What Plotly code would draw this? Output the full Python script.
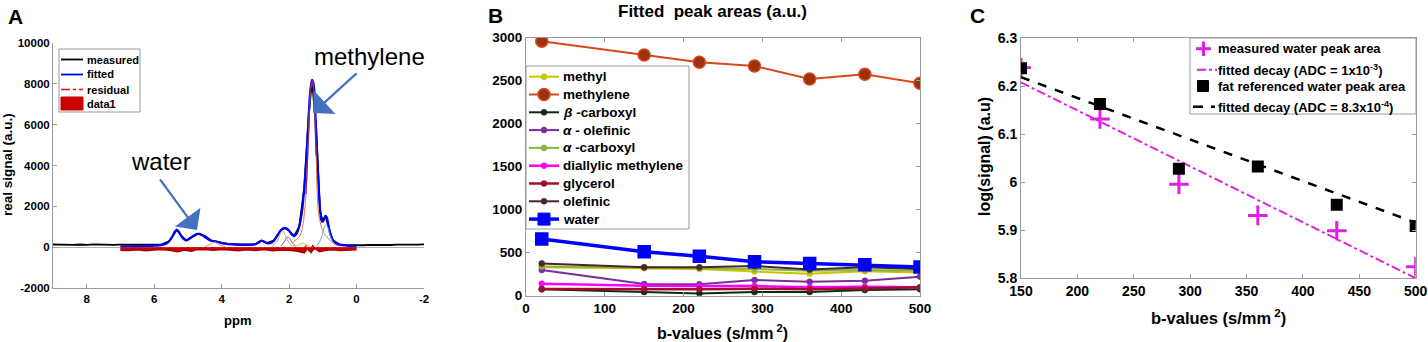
import plotly.graph_objects as go

# ---------------- Panel A data (spectrum) ----------------
ppm_fit = [7.0, 6.8, 6.6, 6.4, 6.2, 6.0, 5.8, 5.65, 5.55, 5.45, 5.38, 5.33, 5.28, 5.2, 5.12, 5.05,
           4.98, 4.9, 4.8, 4.72, 4.65, 4.55, 4.45, 4.35, 4.25, 4.18, 4.1, 4.0, 3.8, 3.6, 3.4, 3.2,
           3.0, 2.9, 2.82, 2.75, 2.65, 2.55, 2.45, 2.35, 2.25, 2.15, 2.08, 2.0, 1.92, 1.85, 1.78,
           1.7, 1.62, 1.55, 1.48, 1.42, 1.37, 1.32, 1.28, 1.24, 1.2, 1.16, 1.12, 1.08, 1.04, 1.0,
           0.96, 0.92, 0.88, 0.84, 0.8, 0.75, 0.7, 0.6, 0.5, 0.3, 0.1, 0.0]
sig_fit = [40, 45, 50, 55, 60, 75, 100, 170, 300, 560, 780, 850, 780, 560, 390, 330,
           380, 480, 600, 650, 650, 560, 440, 340, 300, 290, 250, 200, 150, 120, 110, 110,
           140, 230, 320, 280, 190, 200, 320, 560, 820, 930, 920, 800, 620, 540, 650,
           1000, 1700, 2900, 4600, 6400, 7700, 8200, 8050, 7200, 5800, 4200, 2800, 1800, 1300, 1250,
           1400, 1530, 1450, 1150, 800, 500, 330, 180, 120, 80, 60, 55]

ppm_meas = [9.0, 8.8, 8.6, 8.4, 8.2, 8.0, 7.8, 7.6, 7.4, 7.2, 7.0, 6.6, 6.2, 5.8, 5.55, 5.45,
            5.33, 5.2, 5.05, 4.9, 4.7, 4.5, 4.3, 4.1, 3.8, 3.4, 3.0, 2.82, 2.65, 2.45, 2.25,
            2.12, 2.0, 1.85, 1.7, 1.55, 1.42, 1.32, 1.2, 1.08, 1.0, 0.92, 0.8, 0.7, 0.5, 0.3,
            0.0, -0.2, -0.4, -0.6, -0.8, -1.0, -1.2, -1.4, -1.6, -1.8, -2.0]
sig_meas = [130, 120, 140, 115, 130, 110, 135, 120, 125, 110, 120, 110, 100, 120, 300, 560,
            850, 560, 330, 480, 650, 560, 320, 250, 160, 130, 150, 320, 200, 330, 820,
            940, 800, 550, 1000, 2900, 6400, 8200, 5800, 1800, 1250, 1530, 800, 340, 130, 100,
            80, 95, 110, 100, 115, 105, 120, 110, 115, 125, 135]

ppm_res = [7.0, 6.5, 6.0, 5.5, 5.3, 5.0, 4.7, 4.4, 4.0, 3.5, 3.0, 2.5, 2.2, 2.0, 1.8,
           1.6, 1.5, 1.4, 1.3, 1.2, 1.1, 1.0, 0.8, 0.5, 0.0]
sig_res = [-60, -40, -50, -30, -90, -20, -60, -30, -40, -50, -30, -60, -20, -80, -40,
           -150, 60, -220, 80, -180, 40, -90, -30, -50, -40]

ppm_area = [7.0, 6.75, 6.5, 6.25, 6.0, 5.75, 5.5, 5.3, 5.1, 4.9, 4.75, 4.5, 4.25, 4.0, 3.75,
            3.5, 3.25, 3.0, 2.75, 2.5, 2.25, 2.0, 1.75, 1.55, 1.45, 1.35, 1.25, 1.1, 0.9,
            0.7, 0.5, 0.25, 0.0]
sig_area = [-150, -160, -130, -170, -140, -120, -160, -220, -140, -200, -130, -120, -150, -110,
            -140, -170, -130, -160, -120, -180, -140, -150, -200, -280, -60, -260, -40, -220,
            -150, -130, -160, -140, -130]

# individual fitted components
comp_methylene_ppm = [1.9, 1.7, 1.6, 1.5, 1.42, 1.36, 1.31, 1.26, 1.2, 1.12, 1.0, 0.9, 0.8, 0.7, 0.6, 0.5]
comp_methylene_sig = [250, 500, 1000, 2600, 5600, 7800, 8150, 7300, 4500, 1600, 800, 550, 350, 200, 100, 50]
comp_methyl_ppm = [1.2, 1.1, 1.0, 0.95, 0.9, 0.85, 0.8, 0.7, 0.6]
comp_methyl_sig = [50, 250, 700, 1000, 1100, 950, 650, 250, 80]
comp_acarb_ppm = [2.5, 2.35, 2.25, 2.2, 2.15, 2.05, 1.95, 1.85]
comp_acarb_sig = [50, 300, 700, 800, 700, 350, 120, 40]
comp_aolef_ppm = [2.25, 2.15, 2.08, 2.03, 1.98, 1.9, 1.8]
comp_aolef_sig = [50, 250, 450, 500, 430, 200, 50]
comp_bcarb_ppm = [1.8, 1.7, 1.6, 1.5, 1.4]
comp_bcarb_sig = [30, 120, 180, 120, 30]
comp_glyc_ppm = [4.5, 4.35, 4.25, 4.2, 4.15, 4.05, 3.9]
comp_glyc_sig = [30, 120, 220, 250, 200, 100, 30]

a_xticks = [8, 6, 4, 2, 0, -2]
a_xticklabels = ["8", "6", "4", "2", "0", "-2"]
a_yticks = [-2000, 0, 2000, 4000, 6000, 8000, 10000]
a_yticklabels = ["-2000", "0", "2000", "4000", "6000", "8000", "10000"]

# ---------------- Panel B data ----------------
b_vals = [20, 150, 220, 290, 360, 430, 500]
methyl = [330, 320, 310, 280, 255, 285, 270]
methylene = [2960, 2800, 2715, 2670, 2520, 2575, 2470]
beta_carboxyl = [74, 43, 27, 43, 43, 66, 74]
alpha_olefinic = [298, 136, 132, 182, 163, 174, 221]
alpha_carboxyl = [340, 325, 320, 310, 290, 300, 290]
diallylic = [140, 116, 112, 112, 97, 105, 97]
glycerol = [78, 74, 74, 81, 74, 85, 97]
olefinic = [375, 330, 330, 345, 305, 330, 310]
water = [660, 510, 460, 395, 375, 360, 335]

# ---------------- Panel C data ----------------
b_c = [150, 220, 290, 360, 430, 500]
log_water = [6.239, 6.132, 5.996, 5.931, 5.899, 5.824]
log_fatref = [6.2375, 6.163, 6.028, 6.033, 5.953, 5.909]
fit_b = [150, 500]
fit_water = [6.208, 5.800]
fit_fat = [6.219, 5.916]

FONT = "Liberation Sans, Arial, sans-serif"
GRID = "#9a9a9a"
W, H = 1428, 342


def px(x):
    return x / W


def py(y):
    return 1 - y / H


fig = go.Figure()

# ---- A traces ----
fig.add_trace(go.Scatter(x=ppm_meas, y=sig_meas, mode="lines",
                         line=dict(color="black", width=1.8), xaxis="x", yaxis="y"))
fig.add_trace(go.Scatter(x=ppm_fit, y=sig_fit, mode="lines", line_shape="spline",
                         line=dict(color="#0000ff", width=2.2), xaxis="x", yaxis="y"))
fig.add_trace(go.Scatter(x=ppm_res, y=sig_res, mode="lines",
                         line=dict(color="#ff0000", width=1.3, dash="dashdot"), xaxis="x", yaxis="y"))
fig.add_trace(go.Scatter(x=ppm_area, y=sig_area, mode="lines", fill="tozeroy",
                         fillcolor="#cc0000", line=dict(color="#aa0000", width=1.5),
                         xaxis="x", yaxis="y"))
comps = [(comp_methylene_ppm, comp_methylene_sig, "#e07a3a"),
         (comp_methyl_ppm, comp_methyl_sig, "#5aaee6"),
         (comp_acarb_ppm, comp_acarb_sig, "#9cc83a"),
         (comp_aolef_ppm, comp_aolef_sig, "#8a4cb0"),
         (comp_bcarb_ppm, comp_bcarb_sig, "#e0c800"),
         (comp_glyc_ppm, comp_glyc_sig, "#e89060")]
for cx, cy, cc in comps:
    fig.add_trace(go.Scatter(x=cx, y=cy, mode="lines", line_shape="spline",
                             line=dict(color=cc, width=1), xaxis="x", yaxis="y", hoverinfo="skip"))
fig.add_trace(go.Scatter(x=comp_methylene_ppm[3:9], y=comp_methylene_sig[3:9], mode="lines",
                         line_shape="spline",
                         line=dict(color="#7a2a70", width=1.3), xaxis="x", yaxis="y", hoverinfo="skip"))

# ---- B traces ----
small = 6
series_b = [
    ("methyl", methyl, "#c8c400", "#c8c400", "circle", small, 2),
    ("methylene", methylene, "#d8481a", "#9c3010", "circle", 12, 2),
    ("<i>β</i> -carboxyl", beta_carboxyl, "#0e2a12", "#0e2a12", "circle", small, 2),
    ("<i>α</i> - olefinic", alpha_olefinic, "#7a2c9c", "#7a2c9c", "circle", small, 2),
    ("<i>α</i> -carboxyl", alpha_carboxyl, "#86b43a", "#86b43a", "circle", small, 2),
    ("diallylic methylene", diallylic, "#ff00ff", "#ff00ff", "circle", small, 2.5),
    ("glycerol", glycerol, "#a0102e", "#a0102e", "circle", small, 2.5),
    ("olefinic", olefinic, "#4a2626", "#4a2626", "circle", small, 2),
    ("water", water, "#0000ff", "#0000ff", "square", 12, 3.5),
]
for name, vals, lc, mc, sym, ms, lw in series_b:
    fig.add_trace(go.Scatter(x=b_vals, y=vals, mode="lines+markers", name=name,
                             line=dict(color=lc, width=lw),
                             marker=dict(color=mc, symbol=sym, size=ms,
                                         line=dict(color=lc, width=1.5 if ms > 10 else 0.5)),
                             xaxis="x2", yaxis="y2"))

# ---- C traces ----
fig.add_trace(go.Scatter(x=b_c, y=log_water, mode="markers",
                         marker=dict(symbol="cross-thin", size=14, line=dict(color="#e020e0", width=3)),
                         xaxis="x3", yaxis="y3"))
fig.add_trace(go.Scatter(x=fit_b, y=fit_water, mode="lines",
                         line=dict(color="#e020e0", width=2, dash="dashdot"),
                         xaxis="x3", yaxis="y3"))
fig.add_trace(go.Scatter(x=b_c, y=log_fatref, mode="markers",
                         marker=dict(symbol="square", size=12, color="black"),
                         xaxis="x3", yaxis="y3"))
fig.add_trace(go.Scatter(x=fit_b, y=fit_fat, mode="lines",
                         line=dict(color="black", width=2.5, dash="dash"),
                         xaxis="x3", yaxis="y3"))

tick_common = dict(ticks="inside", ticklen=4, tickcolor=GRID, showgrid=False, zeroline=False,
                   showline=True, linecolor=GRID, linewidth=1, automargin=False)

layout = dict(
    width=W, height=H, margin=dict(l=0, r=0, t=0, b=0, autoexpand=False),
    paper_bgcolor="white", plot_bgcolor="white", showlegend=False,
    font=dict(family=FONT, color="black"),
    xaxis=dict(domain=[px(53), px(424)], range=[9, -2], tickvals=a_xticks, ticktext=a_xticklabels,
               anchor="y", tickfont=dict(size=11.5, weight="bold"), **tick_common),
    yaxis=dict(domain=[py(288), py(43)], range=[-2000, 10000],
               tickvals=a_yticks, ticktext=a_yticklabels, anchor="x",
               tickfont=dict(size=11.5, weight="bold"), **{**tick_common, "zeroline": True},
               zerolinecolor="#b0b0b0", zerolinewidth=1.2),
    xaxis2=dict(domain=[px(526), px(920)], range=[0, 500], tickvals=[0, 100, 200, 300, 400, 500],
                anchor="y2", mirror="ticks", tickfont=dict(size=13.5, weight="bold"), **tick_common),
    yaxis2=dict(domain=[py(295.7), py(37.7)], range=[0, 3000],
                tickvals=[0, 500, 1000, 1500, 2000, 2500, 3000], anchor="x2", mirror="ticks",
                tickfont=dict(size=13.5, weight="bold"), **tick_common),
    xaxis3=dict(domain=[px(1021), px(1415.7)], range=[150, 500],
                tickvals=[150, 200, 250, 300, 350, 400, 450, 500], anchor="y3", mirror="ticks",
                tickfont=dict(size=14, weight="bold"), **tick_common),
    yaxis3=dict(domain=[py(278.3), py(38.3)], range=[5.8, 6.3],
                tickvals=[5.8, 5.9, 6.0, 6.1, 6.2, 6.3], ticktext=["5.8", "5.9", "6", "6.1", "6.2", "6.3"],
                anchor="x3", mirror="ticks", tickfont=dict(size=14, weight="bold"), **tick_common),
)
fig.update_layout(**layout)

ann = []
shapes = []


def label(text, x, y, size, bold=True, angle=0, xanchor="center"):
    ann.append(dict(text=text, x=px(x), y=py(y), xref="paper", yref="paper", showarrow=False,
                    xanchor=xanchor, yanchor="middle", textangle=angle, borderpad=0,
                    font=dict(size=size, family=FONT, color="black", weight="bold" if bold else "normal")))


def box(x0, y0, x1, y1, fill="white", line=GRID, lw=1):
    shapes.append(dict(type="rect", xref="paper", yref="paper", x0=px(x0), x1=px(x1),
                       y0=py(y1), y1=py(y0), fillcolor=fill, line=dict(color=line, width=lw)))


def seg(x0, y0, x1, y1, color, width, dash="solid"):
    shapes.append(dict(type="line", xref="paper", yref="paper", x0=px(x0), x1=px(x1),
                       y0=py(y0), y1=py(y1), line=dict(color=color, width=width, dash=dash)))


def dot(cx, cy, r, fill, edge, lw=1):
    shapes.append(dict(type="circle", xref="paper", yref="paper", x0=px(cx - r), x1=px(cx + r),
                       y0=py(cy + r), y1=py(cy - r), fillcolor=fill, line=dict(color=edge, width=lw)))


# ---- legend A ----
box(59, 49, 140, 112)
legA = [("measured", "black", "solid"), ("fitted", "#0000ff", "solid"), ("residual", "#ff0000", "dashdot")]
for i, (t, c, d) in enumerate(legA):
    yy = 59.5 + 15 * i
    seg(61, yy, 83, yy, c, 1.8 if d == "solid" else 1.5, d)
    label(t, 86, yy, 11, xanchor="left")
box(61, 97, 83, 110, fill="#cc0000", line="#cc0000")
label("data1", 86, 104, 11, xanchor="left")

# ---- legend B ----
box(526, 66, 689, 229)
for i, (name, vals, lc, mc, sym, ms, lw) in enumerate(series_b):
    yy = 76.7 + 17.8 * i
    seg(529, yy, 559, yy, lc, lw)
    if sym == "square":
        box(538, yy - 6, 550, yy + 6, fill=mc, line=mc)
    else:
        r = ms / 2
        dot(544, yy, r, mc, lc, 1.5 if ms > 10 else 0.5)
    label(name, 562, yy, 13.5, xanchor="left")

# ---- legend C ----
box(1190, 38, 1416, 114)
seg(1196, 48.7, 1211, 48.7, "#e020e0", 3)
seg(1203.5, 41.5, 1203.5, 56, "#e020e0", 3)
label("measured water peak area", 1217, 48.7, 13, xanchor="left")
seg(1197, 69.7, 1217, 69.7, "#e020e0", 2, "dashdot")
label("fitted decay (ADC = 1x10<sup>-3</sup>)", 1217, 69.7, 13, xanchor="left")
box(1197.5, 80.5, 1208.5, 91.5, fill="black", line="black")
label("fat referenced water peak area", 1217, 86, 13, xanchor="left")
seg(1193, 106.7, 1203, 106.7, "black", 2.5)
seg(1211, 106.7, 1215, 106.7, "black", 2.5)
label("fitted decay (ADC = 8.3x10<sup>-4</sup>)", 1217, 106.7, 13, xanchor="left")

# ---- panel labels and titles ----
label("A", 15, 17, 21)
label("B", 495, 15, 21)
label("C", 977, 15, 21)
label("Fitted  peak areas (a.u.)", 712, 11, 17)
label("water", 161, 162, 24, bold=False)
label("methylene", 369, 57, 24, bold=False)
label("ppm", 237, 320, 13)
label("real signal (a.u.)", 8, 165, 13.5, angle=-90)
label("b-values (s/mm<sup> 2</sup>)", 722, 332, 16)
label("b-values (s/mm<sup> 2</sup>)", 1218, 317, 16.5)
label("log(signal) (a.u)", 985, 157, 16, angle=-90)

for hx, hy, tx, ty in [(197, 230, 159, 178), (313, 113, 358, 72)]:
    ann.append(dict(x=px(hx), y=py(hy), xref="paper", yref="paper", ax=tx - hx, ay=ty - hy,
                    axref="pixel", ayref="pixel", text="", showarrow=True, arrowhead=1,
                    arrowsize=2.4, arrowwidth=2.2, arrowcolor="#4670c0"))

fig.update_layout(annotations=ann, shapes=shapes)
fig.write_html("out.html", config={"displayModeBar": False},
               post_script="document.body.style.margin='0';document.body.style.overflow='hidden';")
